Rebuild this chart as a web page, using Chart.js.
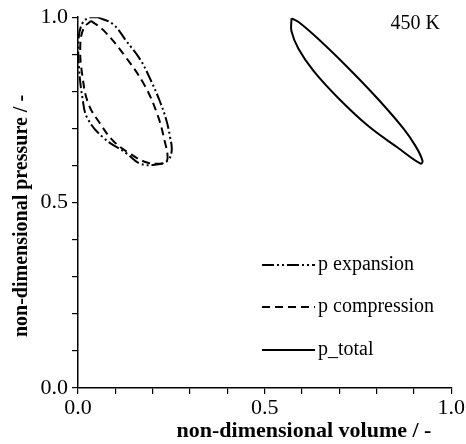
<!DOCTYPE html>
<html>
<head>
<meta charset="utf-8">
<script src="https://cdn.jsdelivr.net/npm/chart.js@4/dist/chart.umd.min.js"></script>
<style>
  html, body { margin: 0; padding: 0; background: #fff; }
  #wrap { width: 466px; height: 444px; }
</style>
</head>
<body>
<div id="wrap"><canvas id="pv"></canvas></div>
<script>
// loop points (volume, pressure)
const expVol  = [0.052, 0.094, 0.130, 0.166, 0.195, 0.219, 0.236, 0.246, 0.251, 0.240, 0.206, 0.166, 0.131, 0.068, 0.025, 0.012, 0.003, 0.001, 0.012, 0.033, 0.052];
const expPres = [1.000, 0.981, 0.935, 0.887, 0.830, 0.774, 0.725, 0.680, 0.640, 0.613, 0.602, 0.605, 0.632, 0.675, 0.728, 0.782, 0.860, 0.935, 0.984, 1.000, 1.000];

const compVol  = [0.035, 0.068, 0.126, 0.179, 0.214, 0.232, 0.240, 0.236, 0.219, 0.185, 0.139, 0.094, 0.060, 0.028, 0.012, 0.006, 0.015, 0.035];
const compPres = [0.990, 0.965, 0.895, 0.815, 0.734, 0.667, 0.626, 0.610, 0.605, 0.608, 0.632, 0.667, 0.712, 0.766, 0.840, 0.920, 0.970, 0.990];

const totVol  = [0.572, 0.591, 0.644, 0.724, 0.803, 0.870, 0.904, 0.923, 0.918, 0.857, 0.777, 0.697, 0.631, 0.591, 0.572, 0.572];
const totPres = [0.997, 0.987, 0.941, 0.863, 0.780, 0.702, 0.653, 0.613, 0.605, 0.648, 0.707, 0.782, 0.855, 0.914, 0.962, 0.997];

const seriesNames = ['p expansion', 'p compression', 'p_total'];
const dashes = [[12, 3, 2, 3, 2, 3], [8, 5], []];
const tempLabel = '450 K';
const xTitle = 'non-dimensional volume / -';
const yTitle = 'non-dimensional pressure / -';

const FONT = '"Liberation Serif", "Times New Roman", serif';

function pts(xs, ys) {
    return xs.map(function (x, i) { return { x: x, y: ys[i] }; });
}

function loop(label, xs, ys, dash) {
    return {
        label: label,
        data: pts(xs, ys),
        showLine: true,
        borderColor: '#000',
        borderWidth: 2,
        borderDash: dash,
        pointRadius: 0,
        fill: false,
        tension: 0.4
    };
}

function tickLabel(v) {
    const t = Math.round(v * 10);
    return t % 5 === 0 ? (t / 10).toFixed(1) : '';
}

const extras = {
    id: 'extras',
    afterDraw: function (chart) {
        const ctx = chart.ctx;
        ctx.save();
        ctx.fillStyle = '#000';
        ctx.strokeStyle = '#000';

        // legend inside the plot
        ctx.font = '20px ' + FONT;
        ctx.textBaseline = 'middle';
        ctx.textAlign = 'left';
        const rows = [265, 307, 350];
        seriesNames.forEach(function (name, i) {
            ctx.lineWidth = 2;
            ctx.setLineDash(dashes[i]);
            ctx.beginPath();
            ctx.moveTo(262, rows[i]);
            ctx.lineTo(315, rows[i]);
            ctx.stroke();
            ctx.setLineDash([]);
            ctx.fillText(name, 318, rows[i]);
        });

        ctx.textAlign = 'right';
        ctx.fillText(tempLabel, 440, 24);

        // axis titles
        ctx.font = 'bold 22px ' + FONT;
        ctx.textAlign = 'center';
        ctx.fillText(xTitle, 304, 431);
        ctx.font = 'bold 20px ' + FONT;
        ctx.translate(22, 216);
        ctx.rotate(-Math.PI / 2);
        ctx.fillText(yTitle, 0, 0);
        ctx.restore();
    }
};

new Chart(document.getElementById('pv'), {
    type: 'scatter',
    data: {
        datasets: [
            loop(seriesNames[0], expVol, expPres, dashes[0]),
            loop(seriesNames[1], compVol, compPres, dashes[1]),
            loop(seriesNames[2], totVol, totPres, dashes[2])
        ]
    },
    options: {
        responsive: true,
        maintainAspectRatio: false,
        animation: false,
        layout: { padding: { top: 16, right: 12, left: 0, bottom: 0 } },
        plugins: {
            legend: { display: false },
            tooltip: { enabled: false }
        },
        scales: {
            x: {
                type: 'linear',
                min: 0, max: 1,
                afterFit: function (s) { s.height = 56; },
                border: { display: true, color: '#000', width: 1.5 },
                grid: { drawOnChartArea: false, drawTicks: true, tickLength: 6, color: '#000', lineWidth: 1.2 },
                ticks: {
                    stepSize: 0.1,
                    autoSkip: false,
                    maxRotation: 0,
                    padding: 1,
                    color: '#000',
                    font: { family: FONT, size: 22 },
                    callback: tickLabel
                }
            },
            y: {
                type: 'linear',
                min: 0, max: 1,
                afterFit: function (s) { s.width = 78; },
                border: { display: true, color: '#000', width: 1.5 },
                grid: { drawOnChartArea: false, drawTicks: true, tickLength: 6, color: '#000', lineWidth: 1.2 },
                ticks: {
                    stepSize: 0.1,
                    autoSkip: false,
                    padding: 4,
                    color: '#000',
                    font: { family: FONT, size: 22 },
                    callback: tickLabel
                }
            }
        }
    },
    plugins: [extras]
});
</script>
</body>
</html>
